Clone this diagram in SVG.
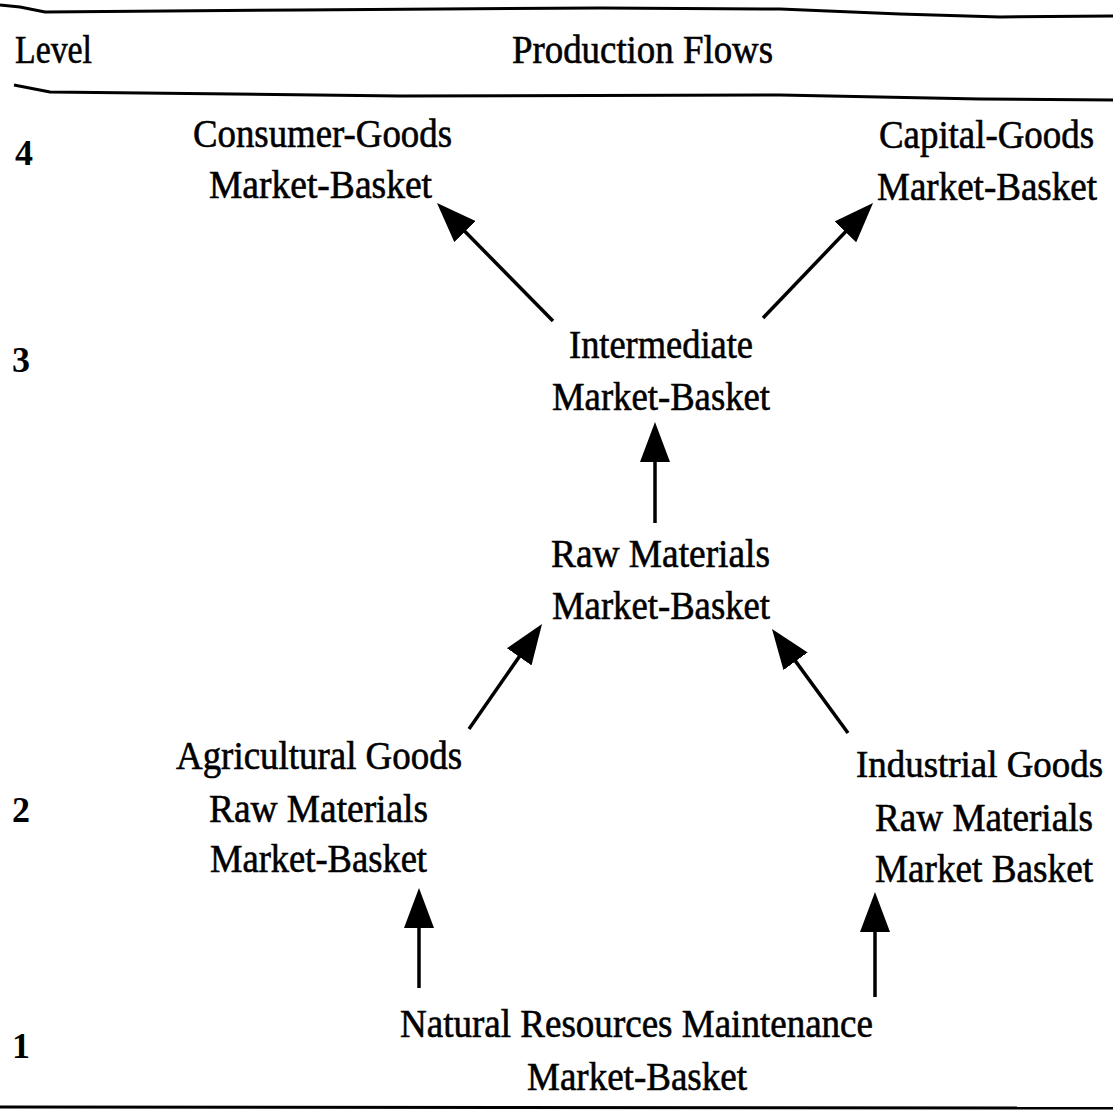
<svg xmlns="http://www.w3.org/2000/svg" width="1113" height="1117" viewBox="0 0 1113 1117">
<style>
  text { font-family: "Liberation Serif", "Times New Roman", serif; font-size: 40px; fill: #000; stroke: #000; stroke-width: 0.6; }
  .num { font-weight: bold; font-size: 36px; stroke-width: 0; }
  .rule { fill: none; stroke: #000; stroke-width: 3; stroke-linejoin: round; }
  .conn { fill: none; stroke: #000; stroke-width: 3.5; marker-end: url(#head); }
</style>
<defs>
  <marker id="head" viewBox="0 0 40 30" markerWidth="40" markerHeight="30" refX="20" refY="15" orient="auto" markerUnits="userSpaceOnUse">
    <path d="M0,0 L40,15 L0,30 Z" fill="#000"/>
  </marker>
</defs>
<rect width="1113" height="1117" fill="#fff"/>
<g id="rules">
  <path class="rule" d="M0,5 L20,7 L45,12 L300,10 L600,8 L780,9 L900,14 L1000,17 L1113,16"/>
  <path class="rule" d="M14,85 L50,92 L400,96 L780,95 L980,99 L1113,100"/>
  <path class="rule" d="M0,1107 L1113,1108"/>
</g>
<g id="header">
  <text x="15" y="63" textLength="77" lengthAdjust="spacingAndGlyphs">Level</text>
  <text x="512" y="63" textLength="261" lengthAdjust="spacingAndGlyphs">Production Flows</text>
</g>
<g id="levels">
  <text class="num" x="15" y="165">4</text>
  <text class="num" x="12" y="372">3</text>
  <text class="num" x="12" y="822">2</text>
  <text class="num" x="12" y="1058">1</text>
</g>
<g id="consumer">
  <text x="193" y="147" textLength="259" lengthAdjust="spacingAndGlyphs">Consumer-Goods</text>
  <text x="209" y="198" textLength="223" lengthAdjust="spacingAndGlyphs">Market-Basket</text>
</g>
<g id="capital">
  <text x="879" y="148" textLength="215" lengthAdjust="spacingAndGlyphs">Capital-Goods</text>
  <text x="877" y="200" textLength="220" lengthAdjust="spacingAndGlyphs">Market-Basket</text>
</g>
<g id="intermediate">
  <text x="569" y="358" textLength="184" lengthAdjust="spacingAndGlyphs">Intermediate</text>
  <text x="552" y="410" textLength="218" lengthAdjust="spacingAndGlyphs">Market-Basket</text>
</g>
<g id="rawmaterials">
  <text x="551" y="567" textLength="219" lengthAdjust="spacingAndGlyphs">Raw Materials</text>
  <text x="552" y="619" textLength="218" lengthAdjust="spacingAndGlyphs">Market-Basket</text>
</g>
<g id="agricultural">
  <text x="176" y="769" textLength="286" lengthAdjust="spacingAndGlyphs">Agricultural Goods</text>
  <text x="209" y="822" textLength="219" lengthAdjust="spacingAndGlyphs">Raw Materials</text>
  <text x="210" y="872" textLength="217" lengthAdjust="spacingAndGlyphs">Market-Basket</text>
</g>
<g id="industrial">
  <text x="856" y="777" style="font-size:38.5px" textLength="247" lengthAdjust="spacingAndGlyphs">Industrial Goods</text>
  <text x="875" y="831" textLength="218" lengthAdjust="spacingAndGlyphs">Raw Materials</text>
  <text x="875" y="882" textLength="218" lengthAdjust="spacingAndGlyphs">Market Basket</text>
</g>
<g id="natural">
  <text x="400" y="1037" textLength="473" lengthAdjust="spacingAndGlyphs">Natural Resources Maintenance</text>
  <text x="527" y="1090" textLength="220" lengthAdjust="spacingAndGlyphs">Market-Basket</text>
</g>
<g id="connectors">
  <line class="conn" x1="553" y1="321" x2="451" y2="217.3"/>
  <line class="conn" x1="763" y1="318" x2="859.2" y2="217.5"/>
  <line class="conn" x1="655" y1="523" x2="655" y2="442"/>
  <line class="conn" x1="469" y1="729" x2="530.6" y2="640.4"/>
  <line class="conn" x1="848" y1="733" x2="783.8" y2="645.1"/>
  <line class="conn" x1="419" y1="988" x2="419" y2="908"/>
  <line class="conn" x1="875" y1="997" x2="875" y2="912"/>
</g>
</svg>
